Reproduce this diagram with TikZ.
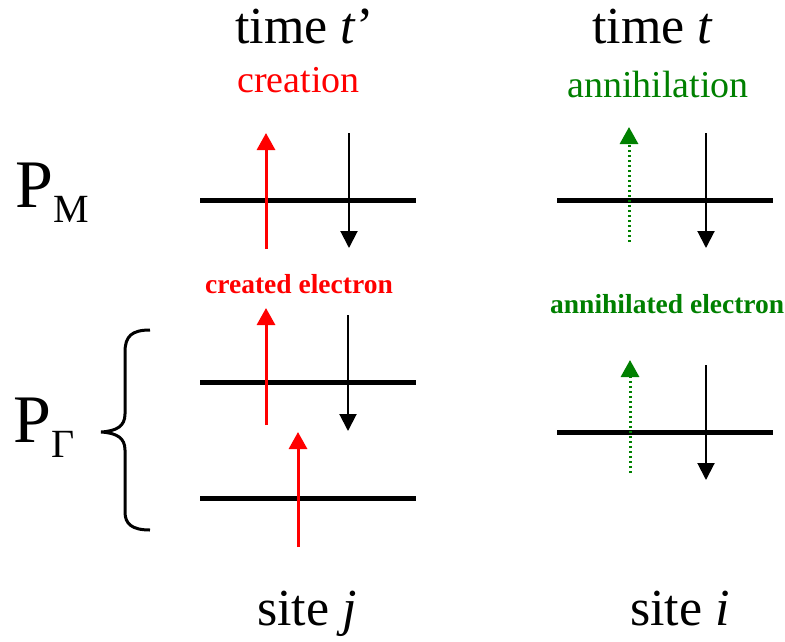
\documentclass[tikz,border=0pt]{standalone}
\usepackage{fontspec}
\setmainfont{Liberation Serif}
\usetikzlibrary{arrows.meta}
\definecolor{spinred}{RGB}{255,0,0}
\definecolor{spingreen}{RGB}{0,128,0}
\tikzset{
  level/.style={line width=5pt},
  upspin/.style={spinred, line width=3pt, -{Triangle[length=17pt,width=18pt]}},
  downspin/.style={black, line width=2pt, -{Triangle[length=17pt,width=17pt]}},
  gonespin/.style={spingreen, line width=3pt, dash pattern=on 2.5pt off 2.5pt, -{Triangle[length=17pt,width=18pt]}},
  lbl/.style={inner sep=0pt, anchor=base west},
  bigfont/.style={font=\fontsize{52}{60}\selectfont},
  midfont/.style={font=\fontsize{38}{44}\selectfont},
  smallfont/.style={font=\fontsize{27.5}{32}\selectfont\bfseries},
}
\newcommand{\projlabel}[1]{P\raisebox{-15pt}{\fontsize{40}{46}\selectfont #1}}

\begin{document}
\begin{tikzpicture}[x=1pt, y=-1pt]
  \useasboundingbox (0,0) rectangle (785,641);

  % Headings
  \node[lbl, bigfont] (timeJ) at (235,43) {time \textit{t}’};
  \node[lbl, bigfont] (timeI) at (592,43) {time \textit{t}};
  \node[lbl, midfont, spinred] (creation) at (237,92) {creation};
  \node[lbl, midfont, spingreen] (annihil) at (567,97) {annihilation};

  % Projectors
  \node[lbl, font=\fontsize{68}{76}\selectfont] (PM) at (15,207) {\projlabel{M}};
  \node[lbl, font=\fontsize{68}{76}\selectfont] (PG) at (13,442) {\projlabel{Γ}};
  \draw[line width=3pt] (150,330) .. controls (132,330) and (125,336) .. (125,352)
    -- (125,414) .. controls (125,426) and (117,431) .. (101,432)
    .. controls (117,433) and (125,438) .. (125,450)
    -- (125,512) .. controls (125,524) and (132,530) .. (150,530);

  % Site j
  \draw[level] (200,200) -- (416,200);
  \draw[upspin] (266,249) -- (266,133);
  \draw[downspin] (349,133) -- (349,248);
  \node[lbl, smallfont, spinred] (created) at (205,293) {created electron};
  \draw[level] (200,382) -- (416,382);
  \draw[upspin] (266,425) -- (266,308);
  \draw[downspin] (348,315) -- (348,431);
  \draw[level] (200,498) -- (416,498);
  \draw[upspin] (298,547) -- (298,432);

  % Site i
  \draw[level] (557,200) -- (773,200);
  \draw[gonespin] (629,242) -- (629,127);
  \draw[downspin] (706,133) -- (706,248);
  \node[lbl, smallfont, spingreen] (annihilated) at (550,313) {annihilated electron};
  \draw[level] (557,432) -- (773,432);
  \draw[gonespin] (630,473) -- (630,360);
  \draw[downspin] (706,365) -- (706,480);

  % Sites
  \node[lbl, bigfont] (siteJ) at (257,625) {site \textit{j}};
  \node[lbl, bigfont] (siteI) at (630,625) {site \textit{i}};
\end{tikzpicture}
\end{document}
